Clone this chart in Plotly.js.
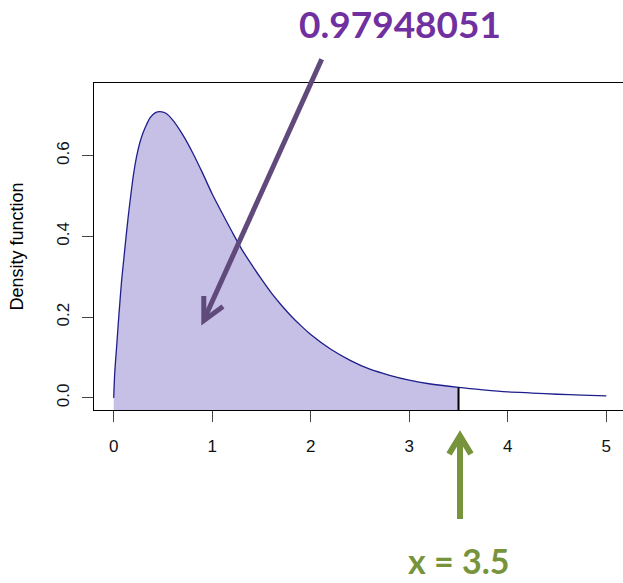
<!DOCTYPE html>
<html>
<head>
<meta charset="utf-8">
<script src="https://cdn.plot.ly/plotly-3.0.1.min.js"></script>
<style>
  html, body { margin: 0; padding: 0; overflow: hidden; background: #fff; }
  #chart { width: 630px; height: 583px; }
</style>
</head>
<body>
<div id="chart"></div>
<script>
// ---- data ----
const xValues = [0, 0.01, 0.03, 0.045, 0.06, 0.08, 0.105, 0.13, 0.15, 0.175, 0.2, 0.23, 0.265, 0.3, 0.335, 0.37, 0.42, 0.47, 0.53, 0.6, 0.7, 0.8, 0.9, 1.0, 1.1, 1.2, 1.3, 1.4, 1.5, 1.6, 1.7, 1.8, 1.9, 2.0, 2.2, 2.4, 2.6, 2.8, 3.0, 3.2, 3.5, 3.75, 4.0, 4.25, 4.5, 4.75, 5.0];
const densityValues = [0, 0.06, 0.128, 0.18, 0.228, 0.29, 0.35, 0.41, 0.455, 0.505, 0.552, 0.595, 0.632, 0.658, 0.678, 0.694, 0.706, 0.709, 0.705, 0.688, 0.652, 0.608, 0.558, 0.505, 0.458, 0.412, 0.368, 0.330, 0.294, 0.260, 0.230, 0.203, 0.179, 0.157, 0.121, 0.093, 0.071, 0.056, 0.044, 0.035, 0.026, 0.020, 0.015, 0.012, 0.009, 0.007, 0.005];
const cutX = 3.5;
const probabilityLabel = "0.97948051";
const cutLabel = "x = 3.5";
const xTickValues = [0, 1, 2, 3, 4, 5];
const yTickValues = [0, 0.2, 0.4, 0.6];
const yAxisTitle = "Density function";

// ---- layout geometry ----
const W = 630, H = 583;
const M = {l: 94, r: 4, t: 83, b: 173};
const xRange = [-0.2, 5.2];
const yRange = [-0.03, 0.78];
const plotW = W - M.l - M.r, plotH = H - M.t - M.b;
const px = v => (v - M.l) / plotW;          // pixel -> paper x
const py = v => (H - M.b - v) / plotH;      // pixel -> paper y

// shaded part up to the cut
const fx = [], fy = [];
fx.push(xValues[0]); fy.push(yRange[0]);
for (let i = 0; i < xValues.length; i++) {
  if (xValues[i] <= cutX) { fx.push(xValues[i]); fy.push(densityValues[i]); }
}
const cutDensity = densityValues[xValues.indexOf(cutX)];
fx.push(cutX); fy.push(yRange[0]);
fx.push(xValues[0]); fy.push(yRange[0]);

const traces = [
  {x: fx, y: fy, type: 'scatter', mode: 'lines', fill: 'toself',
   fillcolor: '#C6C0E6', line: {width: 0, color: 'rgba(0,0,0,0)'}, hoverinfo: 'skip', showlegend: false},
  {x: xValues, y: densityValues, type: 'scatter', mode: 'lines',
   line: {color: '#1E1E8C', width: 1.3, shape: 'spline', smoothing: 0.8}, hoverinfo: 'skip', showlegend: false},
  {x: [cutX, cutX], y: [yRange[0], cutDensity], type: 'scatter', mode: 'lines',
   line: {color: '#000000', width: 2}, hoverinfo: 'skip', showlegend: false}
];

const tickFont = {family: 'Liberation Sans, Arial, sans-serif', size: 17, color: '#111'};
const purpleArrow = '#604A7B';
const greenArrow = '#77933C';

const layout = {
  width: W, height: H,
  margin: M,
  paper_bgcolor: '#ffffff', plot_bgcolor: '#ffffff',
  showlegend: false,
  xaxis: {
    range: xRange, tickvals: xTickValues, ticks: 'outside', ticklen: 11, tickwidth: 1, tickcolor: '#444',
    showline: true, linecolor: '#000', linewidth: 1, mirror: true,
    showgrid: false, zeroline: false, tickfont: tickFont, ticklabelstandoff: 10, fixedrange: true
  },
  yaxis: {
    range: yRange, tickvals: yTickValues, tickformat: '.1f', tickangle: -90,
    ticks: 'outside', ticklen: 11, tickwidth: 1, tickcolor: '#444',
    showline: true, linecolor: '#000', linewidth: 1, mirror: true,
    showgrid: false, zeroline: false, tickfont: tickFont, ticklabelstandoff: 6, fixedrange: true,
    title: {text: yAxisTitle, font: {family: 'Liberation Sans, Arial, sans-serif', size: 18, color: '#000'}, standoff: 25}
  },
  annotations: [
    {text: '<b>' + probabilityLabel + '</b>', xref: 'paper', yref: 'paper',
     x: px(399.5), y: py(23), xanchor: 'center', yanchor: 'middle', showarrow: false,
     font: {family: 'Lato, sans-serif', size: 37, color: '#7030A0'}},
    {text: '<b>' + cutLabel + '</b>', xref: 'paper', yref: 'paper',
     x: px(459), y: py(583), xanchor: 'center', yanchor: 'bottom', showarrow: false,
     font: {family: 'Lato, sans-serif', size: 34, color: greenArrow}}
  ],
  shapes: [
    // purple arrow
    {type: 'line', xref: 'paper', yref: 'paper', x0: px(321.7), y0: py(59.3), x1: px(204.5), y1: py(318.5),
     line: {color: purpleArrow, width: 5}},
    {type: 'path', xref: 'paper', yref: 'paper',
     path: 'M ' + px(203.8) + ' ' + py(296) + ' L ' + px(203.8) + ' ' + py(320.5) + ' L ' + px(223) + ' ' + py(306.5),
     line: {color: purpleArrow, width: 5}},
    // green arrow
    {type: 'line', xref: 'paper', yref: 'paper', x0: px(460), y0: py(519), x1: px(460), y1: py(436),
     line: {color: greenArrow, width: 6}},
    {type: 'path', xref: 'paper', yref: 'paper',
     path: 'M ' + px(449) + ' ' + py(454) + ' L ' + px(460) + ' ' + py(436) + ' L ' + px(471) + ' ' + py(454),
     line: {color: greenArrow, width: 6}}
  ]
};

Plotly.newPlot('chart', traces, layout, {displayModeBar: false, staticPlot: true});
</script>
</body>
</html>
